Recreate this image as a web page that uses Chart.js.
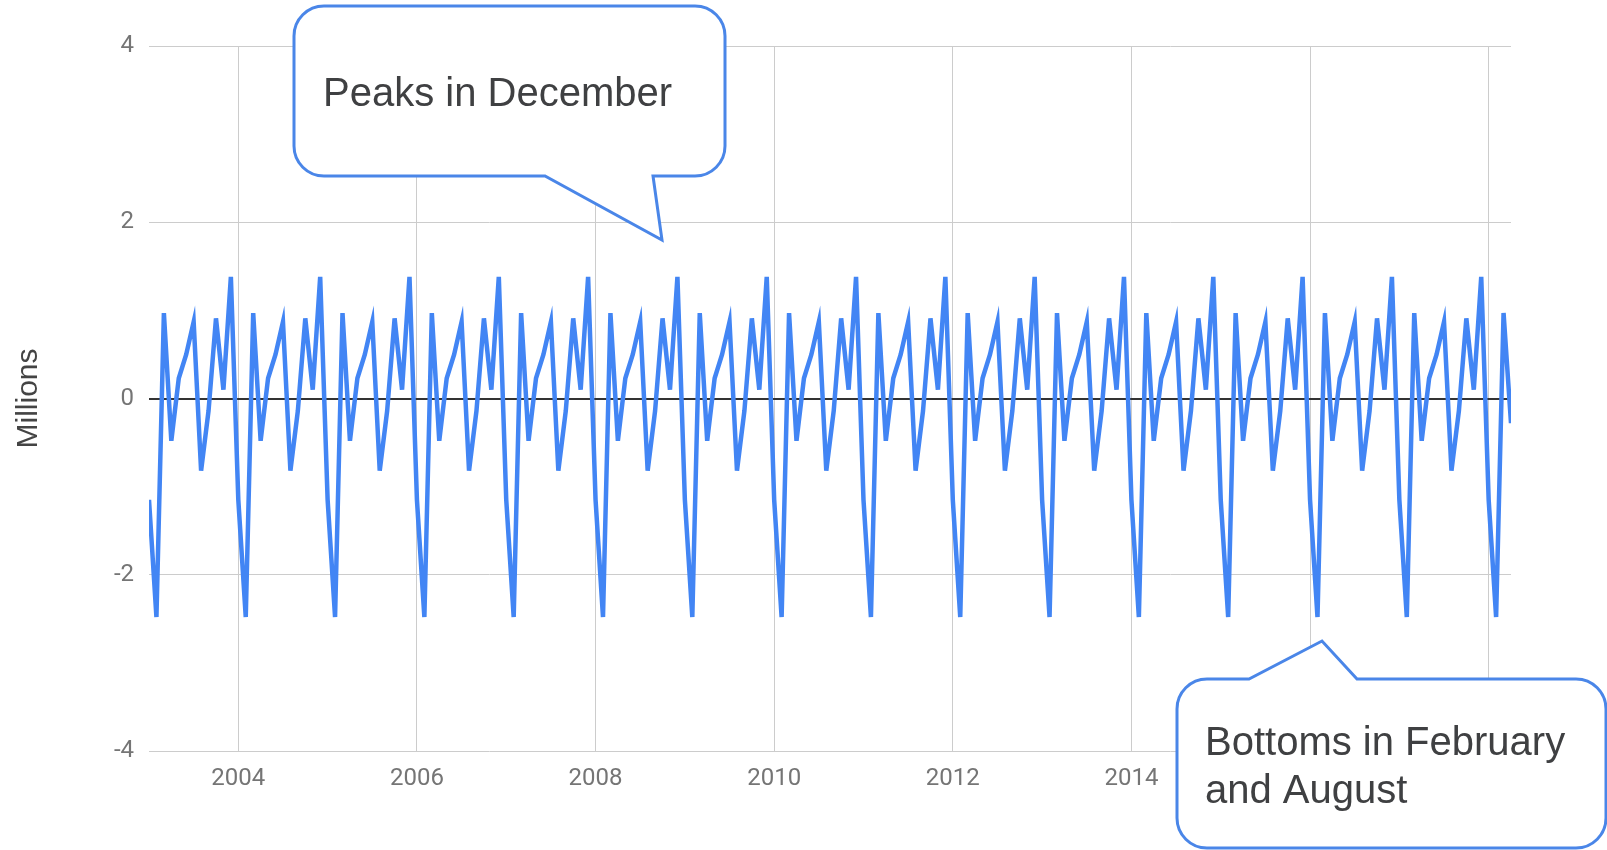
<!DOCTYPE html>
<html>
<head>
<meta charset="utf-8">
<title>Seasonal component</title>
<script src="https://cdn.jsdelivr.net/npm/chart.js@4/dist/chart.umd.min.js"></script>
<style>
  html, body { margin: 0; padding: 0; background: #ffffff; }
  #wrap { width: 1607px; height: 850px; position: relative; }
</style>
</head>
<body>
<div id="wrap"><canvas id="chart"></canvas></div>
<script>
// Monthly seasonal component (millions), January 2003 through April 2018
const firstYear = 2003;
const seasonal = [
  // 2003
  -1.15, -2.48, 0.97, -0.48, 0.23, 0.50, 0.87, -0.82, -0.14, 0.91, 0.10, 1.38,
  // 2004
  -1.15, -2.48, 0.97, -0.48, 0.23, 0.50, 0.87, -0.82, -0.14, 0.91, 0.10, 1.38,
  // 2005
  -1.15, -2.48, 0.97, -0.48, 0.23, 0.50, 0.87, -0.82, -0.14, 0.91, 0.10, 1.38,
  // 2006
  -1.15, -2.48, 0.97, -0.48, 0.23, 0.50, 0.87, -0.82, -0.14, 0.91, 0.10, 1.38,
  // 2007
  -1.15, -2.48, 0.97, -0.48, 0.23, 0.50, 0.87, -0.82, -0.14, 0.91, 0.10, 1.38,
  // 2008
  -1.15, -2.48, 0.97, -0.48, 0.23, 0.50, 0.87, -0.82, -0.14, 0.91, 0.10, 1.38,
  // 2009
  -1.15, -2.48, 0.97, -0.48, 0.23, 0.50, 0.87, -0.82, -0.14, 0.91, 0.10, 1.38,
  // 2010
  -1.15, -2.48, 0.97, -0.48, 0.23, 0.50, 0.87, -0.82, -0.14, 0.91, 0.10, 1.38,
  // 2011
  -1.15, -2.48, 0.97, -0.48, 0.23, 0.50, 0.87, -0.82, -0.14, 0.91, 0.10, 1.38,
  // 2012
  -1.15, -2.48, 0.97, -0.48, 0.23, 0.50, 0.87, -0.82, -0.14, 0.91, 0.10, 1.38,
  // 2013
  -1.15, -2.48, 0.97, -0.48, 0.23, 0.50, 0.87, -0.82, -0.14, 0.91, 0.10, 1.38,
  // 2014
  -1.15, -2.48, 0.97, -0.48, 0.23, 0.50, 0.87, -0.82, -0.14, 0.91, 0.10, 1.38,
  // 2015
  -1.15, -2.48, 0.97, -0.48, 0.23, 0.50, 0.87, -0.82, -0.14, 0.91, 0.10, 1.38,
  // 2016
  -1.15, -2.48, 0.97, -0.48, 0.23, 0.50, 0.87, -0.82, -0.14, 0.91, 0.10, 1.38,
  // 2017
  -1.15, -2.48, 0.97, -0.48, 0.23, 0.50, 0.87, -0.82, -0.14, 0.91, 0.10, 1.38,
  // 2018
  -1.15, -2.48, 0.97, -0.28
];
const yearTicks = [2004, 2006, 2008, 2010, 2012, 2014, 2016, 2018];
const valueTicks = [-4, -2, 0, 2, 4];
const axisTitle = 'Millions';
const calloutTexts = [
  ['Peaks in December'],
  ['Bottoms in February', 'and August']
];

// Each month sits at year + month/12 on a continuous time axis
const points = seasonal.map((v, i) => ({ x: firstYear + i / 12, y: v }));

// Speech-bubble annotations drawn over the plot
const callouts = [
  { box: [294, 6, 725, 176], edge: 'bottom', from: 653, tip: [662, 240], to: 545,
    lines: calloutTexts[0], textX: 323, baseline: 106 },
  { box: [1177, 679, 1606, 848], edge: 'top', from: 1249, tip: [1322, 641], to: 1357,
    lines: calloutTexts[1], textX: 1205, baseline: 755 }
];

const bubblePlugin = {
  id: 'bubbles',
  afterDraw(chart) {
    const ctx = chart.ctx;
    const r = 30;
    ctx.save();
    callouts.forEach(c => {
      const [x0, y0, x1, y1] = c.box;
      ctx.beginPath();
      ctx.moveTo(x0 + r, y0);
      if (c.edge === 'top') {
        ctx.lineTo(c.from, y0);
        ctx.lineTo(c.tip[0], c.tip[1]);
        ctx.lineTo(c.to, y0);
      }
      ctx.lineTo(x1 - r, y0);
      ctx.arcTo(x1, y0, x1, y0 + r, r);
      ctx.lineTo(x1, y1 - r);
      ctx.arcTo(x1, y1, x1 - r, y1, r);
      if (c.edge === 'bottom') {
        ctx.lineTo(c.from, y1);
        ctx.lineTo(c.tip[0], c.tip[1]);
        ctx.lineTo(c.to, y1);
      }
      ctx.lineTo(x0 + r, y1);
      ctx.arcTo(x0, y1, x0, y1 - r, r);
      ctx.lineTo(x0, y0 + r);
      ctx.arcTo(x0, y0, x0 + r, y0, r);
      ctx.closePath();
      ctx.fillStyle = '#ffffff';
      ctx.fill();
      ctx.lineWidth = 3;
      ctx.lineJoin = 'miter';
      ctx.strokeStyle = '#4a86e8';
      ctx.stroke();

      ctx.fillStyle = '#3f4042';
      ctx.font = '40px "Liberation Sans", Arial, sans-serif';
      ctx.textAlign = 'left';
      ctx.textBaseline = 'alphabetic';
      c.lines.forEach((t, i) => ctx.fillText(t, c.textX, c.baseline + i * 48));
    });
    ctx.restore();
  }
};

const whiteBg = {
  id: 'whiteBg',
  beforeDraw(chart) {
    const ctx = chart.ctx;
    ctx.save();
    ctx.fillStyle = '#ffffff';
    ctx.fillRect(0, 0, chart.width, chart.height);
    ctx.restore();
  }
};

new Chart(document.getElementById('chart'), {
  type: 'line',
  data: {
    datasets: [{
      data: points,
      borderColor: '#4285f4',
      borderWidth: 4.5,
      borderJoinStyle: 'miter',
      tension: 0,
      pointRadius: 0,
      fill: false
    }]
  },
  options: {
    responsive: true,
    maintainAspectRatio: false,
    animation: false,
    layout: { padding: { top: 46, right: 96, left: 0, bottom: 0 } },
    plugins: { legend: { display: false }, tooltip: { enabled: false } },
    scales: {
      x: {
        type: 'linear',
        min: firstYear,
        max: firstYear + (seasonal.length - 1) / 12,
        afterBuildTicks(scale) { scale.ticks = yearTicks.map(v => ({ value: v })); },
        afterFit(scale) { scale.height = 99; },
        border: { display: false },
        grid: { color: '#cccccc', lineWidth: 1, drawTicks: false },
        ticks: {
          padding: 14,
          maxRotation: 0,
          autoSkip: false,
          color: '#757575',
          font: { family: 'Roboto', size: 24 },
          callback: v => String(v)
        }
      },
      y: {
        min: -4,
        max: 4,
        afterBuildTicks(scale) { scale.ticks = valueTicks.map(v => ({ value: v })); },
        afterFit(scale) { scale.width = 149; },
        border: { display: false },
        grid: {
          drawTicks: false,
          color: c => (c.tick && c.tick.value === 0 ? '#333333' : '#cccccc'),
          lineWidth: c => (c.tick && c.tick.value === 0 ? 2 : 1)
        },
        ticks: {
          padding: 15,
          color: '#757575',
          font: { family: 'Roboto', size: 24 },
          callback: v => String(v)
        },
        title: {
          display: true,
          text: axisTitle,
          color: '#444444',
          font: { family: '"Liberation Sans", Arial, sans-serif', size: 30 },
          padding: { top: 11, bottom: 0 }
        }
      }
    }
  },
  plugins: [whiteBg, bubblePlugin]
});
</script>
</body>
</html>
